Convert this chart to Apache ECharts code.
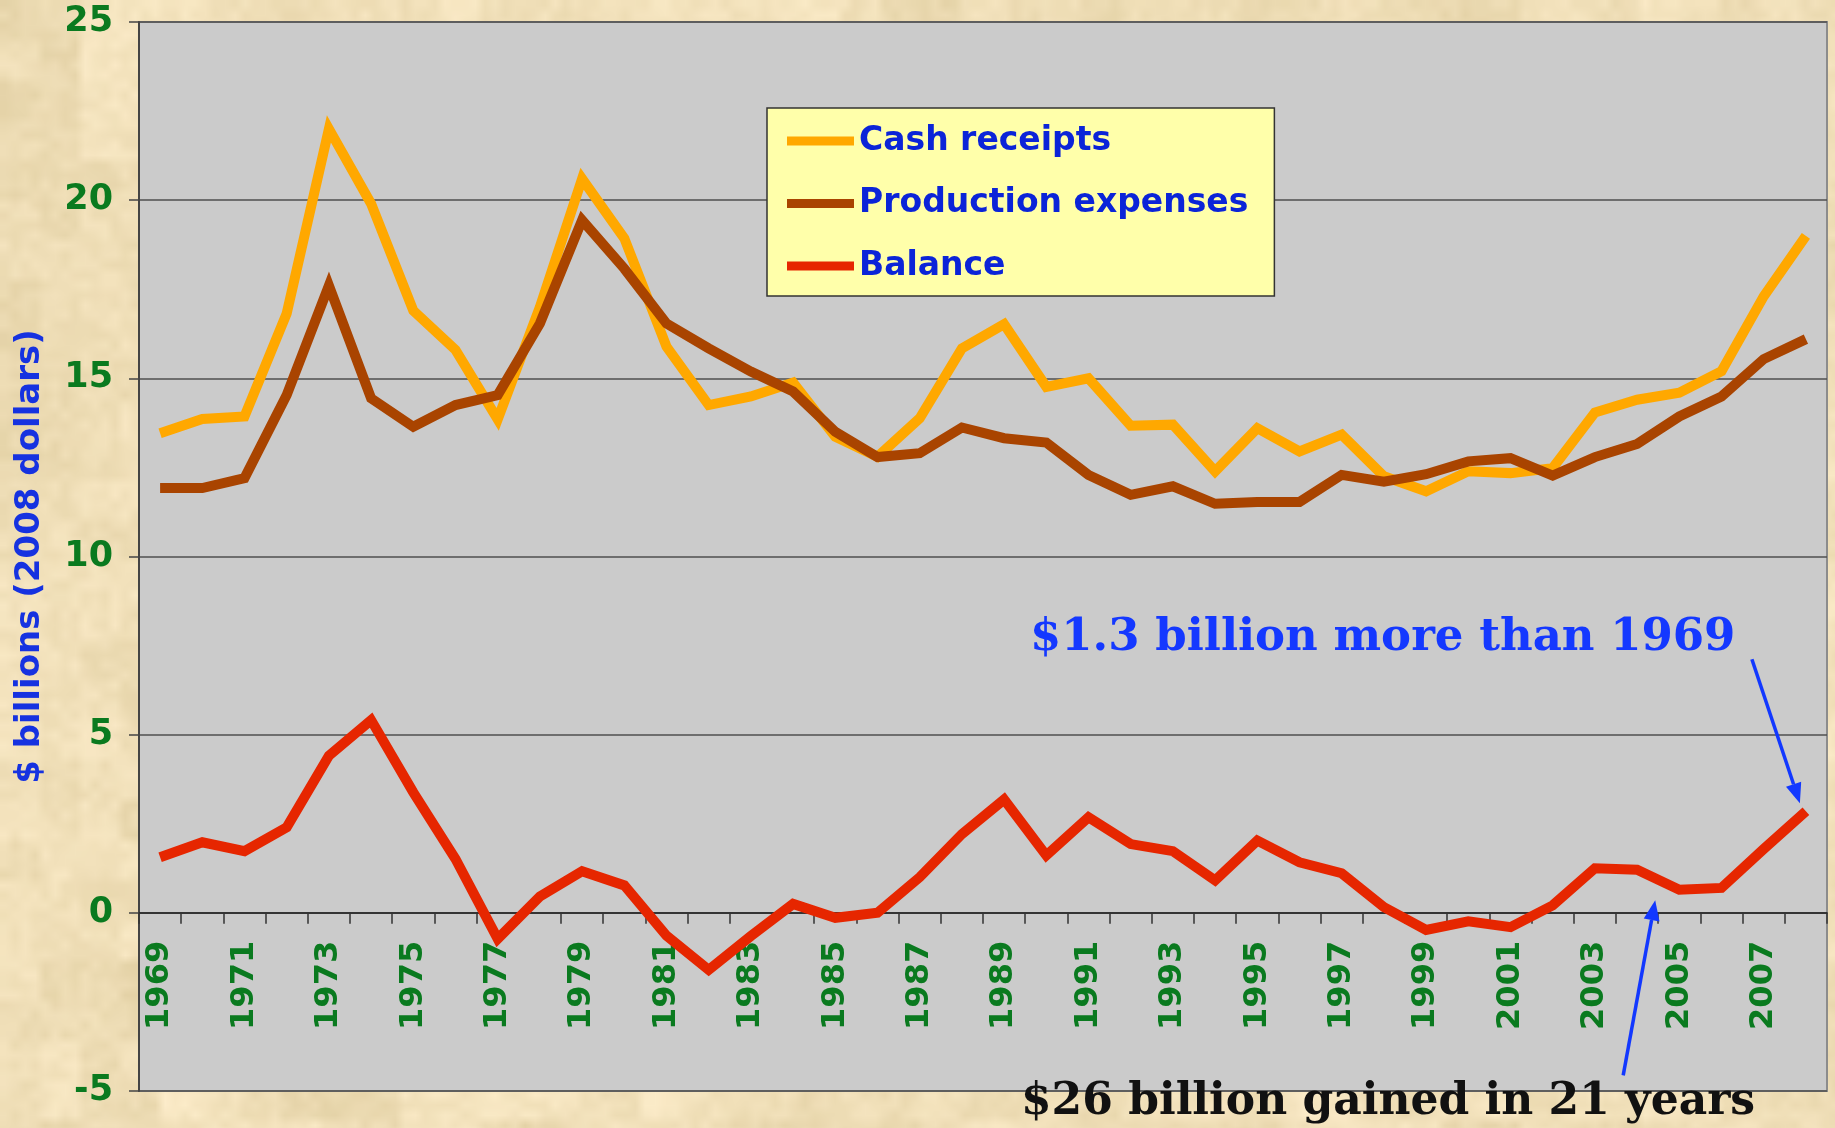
<!DOCTYPE html>
<html>
<head>
<meta charset="utf-8">
<title>Cash receipts vs production expenses</title>
<script src="https://cdn.jsdelivr.net/npm/echarts@6/dist/echarts.min.js"></script>
<style>
  html, body {
    margin: 0;
    padding: 0;
    width: 1835px;
    height: 1128px;
    overflow: hidden;
    background: #efe0bd;
  }
  #paper { position: absolute; left: 0; top: 0; }
  #chart { position: absolute; left: 0; top: 0; width: 1835px; height: 1128px; }
</style>
</head>
<body>
<canvas id="paper" width="1835" height="1128"></canvas>
<div id="chart"></div>
<script>
// farm sector, $ billions (2008 dollars)
const years = [
  '1969', '1970', '1971', '1972', '1973', '1974', '1975', '1976', '1977', '1978',
  '1979', '1980', '1981', '1982', '1983', '1984', '1985', '1986', '1987', '1988',
  '1989', '1990', '1991', '1992', '1993', '1994', '1995', '1996', '1997', '1998',
  '1999', '2000', '2001', '2002', '2003', '2004', '2005', '2006', '2007', '2008',
]
const cashReceipts = [
  13.46, 13.86, 13.93, 16.82, 22.0, 19.9, 16.9, 15.8, 13.85, 17.0,
  20.6, 18.93, 15.89, 14.25, 14.49, 14.88, 13.36, 12.8, 13.88, 15.84,
  16.52, 14.76, 15.0, 13.67, 13.7, 12.39, 13.6, 12.95, 13.42, 12.25,
  11.83, 12.39, 12.34, 12.48, 14.04, 14.4, 14.6, 15.2, 17.3, 19.0,
]
const productionExpenses = [
  11.92, 11.92, 12.2, 14.53, 17.6, 14.44, 13.64, 14.25, 14.53, 16.54,
  19.44, 18.08, 16.54, 15.84, 15.19, 14.63, 13.5, 12.79, 12.9, 13.62,
  13.32, 13.2, 12.29, 11.73, 11.97, 11.48, 11.53, 11.53, 12.29, 12.1,
  12.31, 12.67, 12.76, 12.27, 12.79, 13.16, 13.93, 14.49, 15.54, 16.1,
]
const balance = [
  1.56, 1.98, 1.73, 2.4, 4.41, 5.41, 3.38, 1.51, -0.73, 0.46,
  1.17, 0.77, -0.64, -1.6, -0.65, 0.25, -0.14, 0.0, 1.0, 2.21,
  3.18, 1.61, 2.68, 1.93, 1.73, 0.91, 2.03, 1.42, 1.11, 0.16,
  -0.48, -0.24, -0.4, 0.21, 1.25, 1.21, 0.65, 0.7, 1.79, 2.85,
]
const yTicks = { min: -5, max: 25, interval: 5 }
const seriesNames = ['Cash receipts', 'Production expenses', 'Balance']
const seriesColors = ['#ffa800', '#a94400', '#e62600']
const noteTop = '$1.3 billion more than 1969'
const noteBottom = '$26 billion gained in 21 years'

const labelGreen = '#0a7a1f'
const legendBlue = '#0b24d8'
const arrowBlue = '#1238ff'

// parchment backdrop, soft mottling from a hashed grid
const paintPaper = () => {
  const cv = document.getElementById('paper')
  const ctx = cv.getContext('2d')
  const cell = 10
  const cols = Math.ceil(cv.width / cell) + 1
  const rows = Math.ceil(cv.height / cell) + 1
  const small = document.createElement('canvas')
  small.width = cols
  small.height = rows
  const sctx = small.getContext('2d')
  const img = sctx.createImageData(cols, rows)
  const hash = (x, y) => {
    const s = Math.sin(x * 127.1 + y * 311.7) * 43758.5453
    return s - Math.floor(s)
  }
  for (let y = 0; y < rows; y++) {
    for (let x = 0; x < cols; x++) {
      const n = (hash(x, y) + hash(x >> 2, y >> 2) + hash(x >> 3, (y >> 3) + 7)) / 3
      const i = (y * cols + x) * 4
      img.data[i] = 226 + n * 28
      img.data[i + 1] = 208 + n * 30
      img.data[i + 2] = 164 + n * 40
      img.data[i + 3] = 255
    }
  }
  sctx.putImageData(img, 0, 0)
  ctx.imageSmoothingEnabled = true
  ctx.drawImage(small, 0, 0, cols * cell, rows * cell)
}
paintPaper()

const gridBox = { left: 139, right: 8, top: 22, bottom: 37 }
const plotHeight = 1128 - gridBox.top - gridBox.bottom
// lift the category axis from the grid bottom up to the zero line
const zeroOffset = -plotHeight * (0 - yTicks.min) / (yTicks.max - yTicks.min)

const chart = echarts.init(document.getElementById('chart'), null, { renderer: 'canvas' })

const lineSeries = (name, data, idx) => ({
  name,
  type: 'line',
  data,
  symbol: 'none',
  smooth: false,
  z: 3 + idx,
  itemStyle: { color: seriesColors[idx] },
  lineStyle: { color: seriesColors[idx], width: 10, join: 'miter', cap: 'butt' },
  emphasis: { disabled: true },
})

chart.setOption({
  animation: false,
  color: seriesColors,
  grid: {
    ...gridBox,
    containLabel: false,
    outerBoundsMode: 'none',
    show: true,
    backgroundColor: '#cbcbcb',
    borderColor: '#8c8c8c',
    borderWidth: 2,
  },
  legend: {
    orient: 'vertical',
    left: 767,
    top: 108,
    padding: [13, 26, 10, 20],
    itemGap: 22.5,
    itemWidth: 67,
    itemHeight: 9,
    icon: 'rect',
    backgroundColor: '#ffffaa',
    borderColor: '#333333',
    borderWidth: 1.5,
    selectedMode: false,
    textStyle: {
      fontFamily: 'DejaVu Sans',
      fontWeight: 'bold',
      fontSize: 33,
      lineHeight: 40,
      color: legendBlue,
    },
    data: seriesNames,
  },
  xAxis: {
    type: 'category',
    data: years,
    boundaryGap: true,
    position: 'bottom',
    offset: zeroOffset,
    axisLine: { onZero: false, lineStyle: { color: '#222', width: 1.5 } },
    axisTick: { show: true, interval: 0, length: 11, lineStyle: { color: '#333', width: 1.5 } },
    axisLabel: {
      interval: 1,
      rotate: 90,
      margin: 28,
      color: labelGreen,
      fontFamily: 'DejaVu Sans',
      fontWeight: 'bold',
      fontSize: 32,
    },
    splitLine: { show: false },
  },
  yAxis: {
    type: 'value',
    min: yTicks.min,
    max: yTicks.max,
    interval: yTicks.interval,
    name: '$ billions (2008 dollars)',
    nameLocation: 'middle',
    nameGap: 92,
    nameTextStyle: {
      color: '#1632e0',
      fontFamily: 'DejaVu Sans',
      fontWeight: 'bold',
      fontSize: 34,
    },
    axisLine: { show: true, lineStyle: { color: '#444', width: 2 } },
    axisTick: { show: true, length: 10, lineStyle: { color: '#444', width: 1.5 } },
    axisLabel: {
      margin: 26,
      color: labelGreen,
      fontFamily: 'DejaVu Sans',
      fontWeight: 'bold',
      fontSize: 35,
    },
    splitLine: { show: true, lineStyle: { color: '#4f4f4f', width: 1.5 } },
  },
  series: [
    lineSeries(seriesNames[0], cashReceipts, 0),
    lineSeries(seriesNames[1], productionExpenses, 1),
    lineSeries(seriesNames[2], balance, 2),
  ],
})

// arrows point at data positions, text sits beside them
const arrow = (from, to) => {
  const dx = to[0] - from[0]
  const dy = to[1] - from[1]
  const len = Math.sqrt(dx * dx + dy * dy)
  const ux = dx / len
  const uy = dy / len
  const headLen = 20
  const headW = 8
  const base = [to[0] - ux * headLen, to[1] - uy * headLen]
  return [
    {
      type: 'line',
      shape: { x1: from[0], y1: from[1], x2: base[0], y2: base[1] },
      style: { stroke: arrowBlue, lineWidth: 3.5 },
      z: 20,
    },
    {
      type: 'polygon',
      shape: {
        points: [
          to,
          [base[0] - uy * headW, base[1] + ux * headW],
          [base[0] + uy * headW, base[1] - ux * headW],
        ],
      },
      style: { fill: arrowBlue },
      z: 20,
    },
  ]
}

const last = years.length - 1
const pLast = chart.convertToPixel({ gridIndex: 0 }, [last, balance[last]])
const tip1 = [pLast[0] - 6, pLast[1] - 8]
const p04 = chart.convertToPixel({ gridIndex: 0 }, [35, 0.35])
const p05 = chart.convertToPixel({ gridIndex: 0 }, [36, 0.35])
const tip2 = [(p04[0] + p05[0]) / 2 - 3, p04[1]]

chart.setOption({
  graphic: [
    ...arrow([tip1[0] - 48, tip1[1] - 144], tip1),
    ...arrow([tip2[0] - 32, tip2[1] + 175], tip2),
    {
      type: 'text',
      left: 1030,
      top: 616,
      z: 20,
      style: {
        text: noteTop,
        fill: '#1438ff',
        font: 'bold 45px "DejaVu Serif"',
      },
    },
    {
      type: 'text',
      left: 1021,
      top: 1081,
      z: 20,
      style: {
        text: noteBottom,
        fill: '#111111',
        font: 'bold 44px "DejaVu Serif"',
      },
    },
  ],
})

window.addEventListener('resize', () => chart.resize())
</script>
</body>
</html>
